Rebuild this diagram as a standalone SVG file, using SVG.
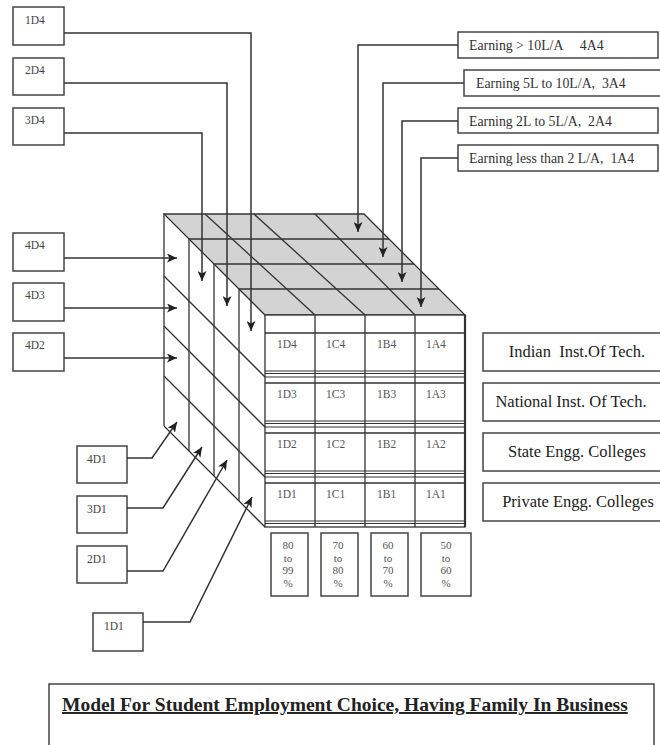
<svg xmlns="http://www.w3.org/2000/svg" width="660" height="745" viewBox="0 0 660 745">
<style>
.bx{fill:#fff;stroke:#444;stroke-width:1.5}
.ln{fill:none;stroke:#333;stroke-width:1.3}
.th{stroke:#333;stroke-width:1}
.cn{fill:none;stroke:#333;stroke-width:1.5}
.t{font-family:"Liberation Serif","Times New Roman",serif;fill:#444}
.s{font-size:11.5px}
.c{font-size:11.5px;fill:#555}
.e{font-size:13.8px;fill:#333}
.r{font-size:16.5px;fill:#222;text-anchor:middle}
.p{font-size:11px;fill:#555;text-anchor:middle}
</style>
<defs>
<marker id="ah" markerUnits="userSpaceOnUse" markerWidth="11" markerHeight="9" refX="10" refY="4.5" orient="auto">
<path d="M0,0 L10,4.5 L0,9 L2.5,4.5 z" fill="#222"/>
</marker>
</defs>
<rect width="660" height="745" fill="#fff"/>

<g id="cube">
<polygon points="164,214 364,214 465,315 265,315" fill="#d3d3d3" stroke="#333" stroke-width="1.3"/>
<g class="ln">
<line x1="189" y1="239" x2="389" y2="239"/>
<line x1="214" y1="264" x2="414" y2="264"/>
<line x1="239" y1="289" x2="439" y2="289"/>
<line x1="205" y1="214" x2="315" y2="315"/>
<line x1="254" y1="214" x2="365" y2="315"/>
<line x1="315" y1="214" x2="415" y2="315"/>
<line x1="164" y1="214" x2="164" y2="426"/>
<line x1="189" y1="239" x2="189" y2="451"/>
<line x1="214" y1="264" x2="214" y2="476"/>
<line x1="239" y1="289" x2="239" y2="501"/>
<line x1="164" y1="276" x2="265" y2="377"/>
<line x1="164" y1="326" x2="265" y2="427"/>
<line x1="164" y1="376" x2="265" y2="477"/>
<line x1="164" y1="426" x2="265" y2="527"/>
<rect x="265" y="315" width="200" height="212" fill="#fff"/>
<line x1="315" y1="315" x2="315" y2="527"/>
<line x1="365" y1="315" x2="365" y2="527"/>
<line x1="415" y1="315" x2="415" y2="527"/>
<line x1="265" y1="333" x2="465" y2="333"/>
<line x1="265" y1="383" x2="465" y2="383"/>
<line x1="265" y1="433" x2="465" y2="433"/>
<line x1="265" y1="483" x2="465" y2="483"/>
</g>
<g class="th">
<line x1="265" y1="371" x2="465" y2="371"/>
<line x1="265" y1="373.5" x2="465" y2="373.5"/>
<line x1="265" y1="377" x2="465" y2="377"/>
<line x1="265" y1="421" x2="465" y2="421"/>
<line x1="265" y1="423.5" x2="465" y2="423.5"/>
<line x1="265" y1="427" x2="465" y2="427"/>
<line x1="265" y1="471" x2="465" y2="471"/>
<line x1="265" y1="473.5" x2="465" y2="473.5"/>
<line x1="265" y1="477" x2="465" y2="477"/>
<line x1="265" y1="521" x2="465" y2="521"/>
<line x1="265" y1="523.5" x2="465" y2="523.5"/>
</g>
<line x1="465" y1="315" x2="465" y2="527" stroke="#333" stroke-width="2.2"/>
<g class="t c">
<text x="277" y="348">1D4</text><text x="326" y="348">1C4</text><text x="377" y="348">1B4</text><text x="426" y="348">1A4</text>
<text x="277" y="398">1D3</text><text x="326" y="398">1C3</text><text x="377" y="398">1B3</text><text x="426" y="398">1A3</text>
<text x="277" y="448">1D2</text><text x="326" y="448">1C2</text><text x="377" y="448">1B2</text><text x="426" y="448">1A2</text>
<text x="277" y="498">1D1</text><text x="326" y="498">1C1</text><text x="377" y="498">1B1</text><text x="426" y="498">1A1</text>
</g>
</g>

<g id="n1D4"><rect class="bx" x="13" y="7" width="51" height="38"/><text class="t s" x="25" y="24">1D4</text></g>
<g id="n2D4"><rect class="bx" x="13" y="58" width="51" height="37"/><text class="t s" x="25" y="74">2D4</text></g>
<g id="n3D4"><rect class="bx" x="13" y="108" width="51" height="37"/><text class="t s" x="25" y="124">3D4</text></g>
<g id="n4D4"><rect class="bx" x="13" y="233" width="51" height="38"/><text class="t s" x="25" y="249">4D4</text></g>
<g id="n4D3"><rect class="bx" x="13" y="283" width="51" height="38"/><text class="t s" x="25" y="299">4D3</text></g>
<g id="n4D2"><rect class="bx" x="13" y="333" width="51" height="38"/><text class="t s" x="25" y="349">4D2</text></g>
<g id="n4D1"><rect class="bx" x="77" y="446" width="50" height="37"/><text class="t s" x="87" y="463">4D1</text></g>
<g id="n3D1"><rect class="bx" x="77" y="496" width="50" height="37"/><text class="t s" x="87" y="513">3D1</text></g>
<g id="n2D1"><rect class="bx" x="77" y="546" width="50" height="37"/><text class="t s" x="87" y="563">2D1</text></g>
<g id="n1D1"><rect class="bx" x="93" y="613" width="50" height="38"/><text class="t s" x="104" y="630">1D1</text></g>

<g id="e4A4"><rect class="bx" x="458" y="32" width="200" height="26"/><text class="t e" x="469" y="50" xml:space="preserve">Earning &gt; 10L/A     4A4</text></g>
<g id="e3A4"><rect class="bx" x="464" y="70" width="200" height="26"/><text class="t e" x="476" y="88" xml:space="preserve">Earning 5L to 10L/A,  3A4</text></g>
<g id="e2A4"><rect class="bx" x="458" y="108" width="200" height="25"/><text class="t e" x="469" y="126" xml:space="preserve">Earning 2L to 5L/A,  2A4</text></g>
<g id="e1A4"><rect class="bx" x="458" y="145" width="200" height="26"/><text class="t e" x="469" y="163" xml:space="preserve">Earning less than 2 L/A,  1A4</text></g>

<g id="rIIT"><rect class="bx" x="483" y="333" width="185" height="38"/><text class="t r" x="577" y="357" xml:space="preserve">Indian  Inst.Of Tech.</text></g>
<g id="rNIT"><rect class="bx" x="483" y="383" width="185" height="38"/><text class="t r" x="571" y="407">National Inst. Of Tech.</text></g>
<g id="rSEC"><rect class="bx" x="483" y="433" width="185" height="38"/><text class="t r" x="577" y="457">State Engg. Colleges</text></g>
<g id="rPEC"><rect class="bx" x="483" y="483" width="185" height="38"/><text class="t r" x="578" y="507">Private Engg. Colleges</text></g>

<g id="p80"><rect class="bx" x="271" y="533" width="37" height="63"/><text class="t p"><tspan x="288" y="549">80</tspan><tspan x="288" y="561.5">to</tspan><tspan x="288" y="574">99</tspan><tspan x="288" y="586.5">%</tspan></text></g>
<g id="p70"><rect class="bx" x="321" y="533" width="37" height="63"/><text class="t p"><tspan x="338" y="549">70</tspan><tspan x="338" y="561.5">to</tspan><tspan x="338" y="574">80</tspan><tspan x="338" y="586.5">%</tspan></text></g>
<g id="p60"><rect class="bx" x="371" y="533" width="37" height="63"/><text class="t p"><tspan x="388" y="549">60</tspan><tspan x="388" y="561.5">to</tspan><tspan x="388" y="574">70</tspan><tspan x="388" y="586.5">%</tspan></text></g>
<g id="p50"><rect class="bx" x="421" y="533" width="50" height="63"/><text class="t p"><tspan x="446" y="549">50</tspan><tspan x="446" y="561.5">to</tspan><tspan x="446" y="574">60</tspan><tspan x="446" y="586.5">%</tspan></text></g>

<g id="connectors" class="cn" marker-end="url(#ah)">
<path d="M64,33 L251,33 L251,331"/>
<path d="M64,83 L227,83 L227,306"/>
<path d="M64,133 L202,133 L202,281"/>
<path d="M458,45 L358,45 L358,232"/>
<path d="M464,83 L383,83 L383,257"/>
<path d="M458,121 L402,121 L402,282"/>
<path d="M458,158 L421,158 L421,307"/>
<path d="M64,258 L177,258"/>
<path d="M64,308 L177,308"/>
<path d="M64,358 L177,358"/>
<path d="M127,458 L152,458 L177,422"/>
<path d="M127,508 L163,508 L202,447"/>
<path d="M127,571 L163,571 L227,460"/>
<path d="M143,622 L190,622 L252,497"/>
</g>

<g id="title">
<rect class="bx" x="49" y="684" width="605" height="75"/>
<text x="62" y="711" font-family="Liberation Serif,'Times New Roman',serif" font-weight="bold" font-size="19.5" fill="#222" text-decoration="underline">Model For Student Employment Choice, Having Family In Business</text>
</g>
</svg>
